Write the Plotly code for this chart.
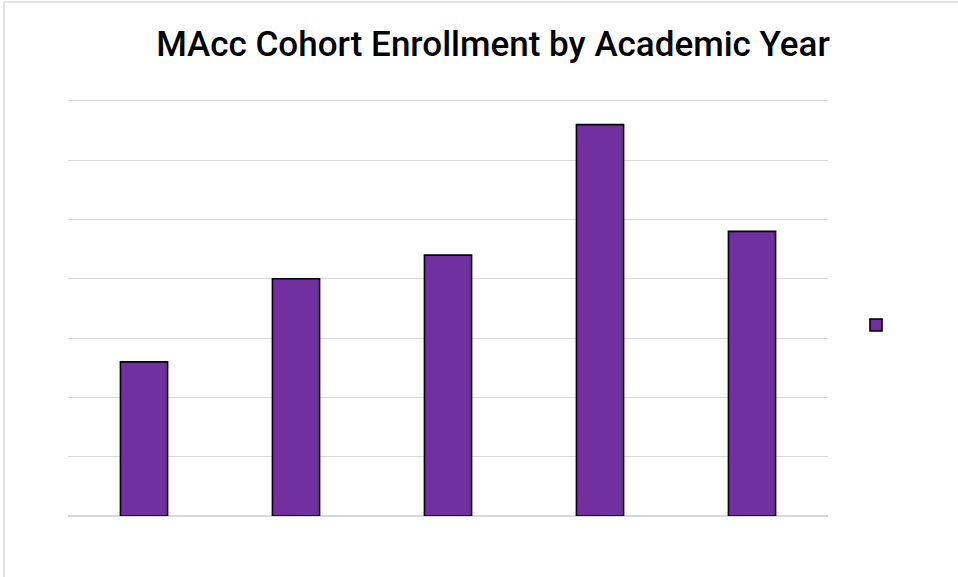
import plotly.graph_objects as go

academic_years = ["2016-17", "2017-18", "2018-19", "2019-20", "2020-21"]
enrollment = [26, 40, 44, 66, 48]
y_ticks = [0, 10, 20, 30, 40, 50, 60, 70]
y_max = 71

W, H = 958, 577
base_y, top_grid_y = 516, 101
unit = (base_y - top_grid_y) / 70.0
L, R = 68, W - 828
T = round(base_y - y_max * unit)
B = H - base_y
PW, PH = W - L - R, H - T - B


def px(x):
    return (x - L) / PW


def py(y):
    return (H - B - y) / PH


fig = go.Figure()
fig.add_trace(go.Bar(
    x=academic_years, y=enrollment, name=" ",
    marker=dict(color="#7030A0", line=dict(color="#000000", width=1.6)),
    showlegend=True,
))

fig.update_layout(
    width=W, height=H,
    margin=dict(l=L, r=R, t=T, b=B),
    paper_bgcolor="white", plot_bgcolor="white",
    bargap=0.69,
    title=dict(text="MAcc Cohort Enrollment by Academic Year",
               font=dict(family="Roboto", size=35, color="#000000", weight=500),
               x=493 / W, xanchor="center", xref="container",
               y=1 - 44 / H, yanchor="middle", yref="container"),
    xaxis=dict(showticklabels=False, showgrid=False, zeroline=False, showline=False, ticks=""),
    yaxis=dict(range=[0, y_max], tickvals=y_ticks, showticklabels=False,
               showgrid=True, gridcolor="#D9D9D9", gridwidth=1,
               zeroline=True, zerolinecolor="#D9D9D9", zerolinewidth=2, ticks=""),
    legend=dict(x=px(856), xanchor="left",
                y=py(325), yanchor="middle",
                bgcolor="rgba(0,0,0,0)", font=dict(size=12)),
    shapes=[
        dict(type="line", xref="paper", yref="paper",
             x0=px(4), x1=px(4), y0=py(600), y1=py(2),
             line=dict(color="#D9D9D9", width=1.5)),
        dict(type="line", xref="paper", yref="paper",
             x0=px(4), x1=px(1000), y0=py(2), y1=py(2),
             line=dict(color="#D9D9D9", width=1.5)),
    ],
)

fig.write_html("out.html", config={"displayModeBar": False},
               post_script="document.body.style.margin='0';")
